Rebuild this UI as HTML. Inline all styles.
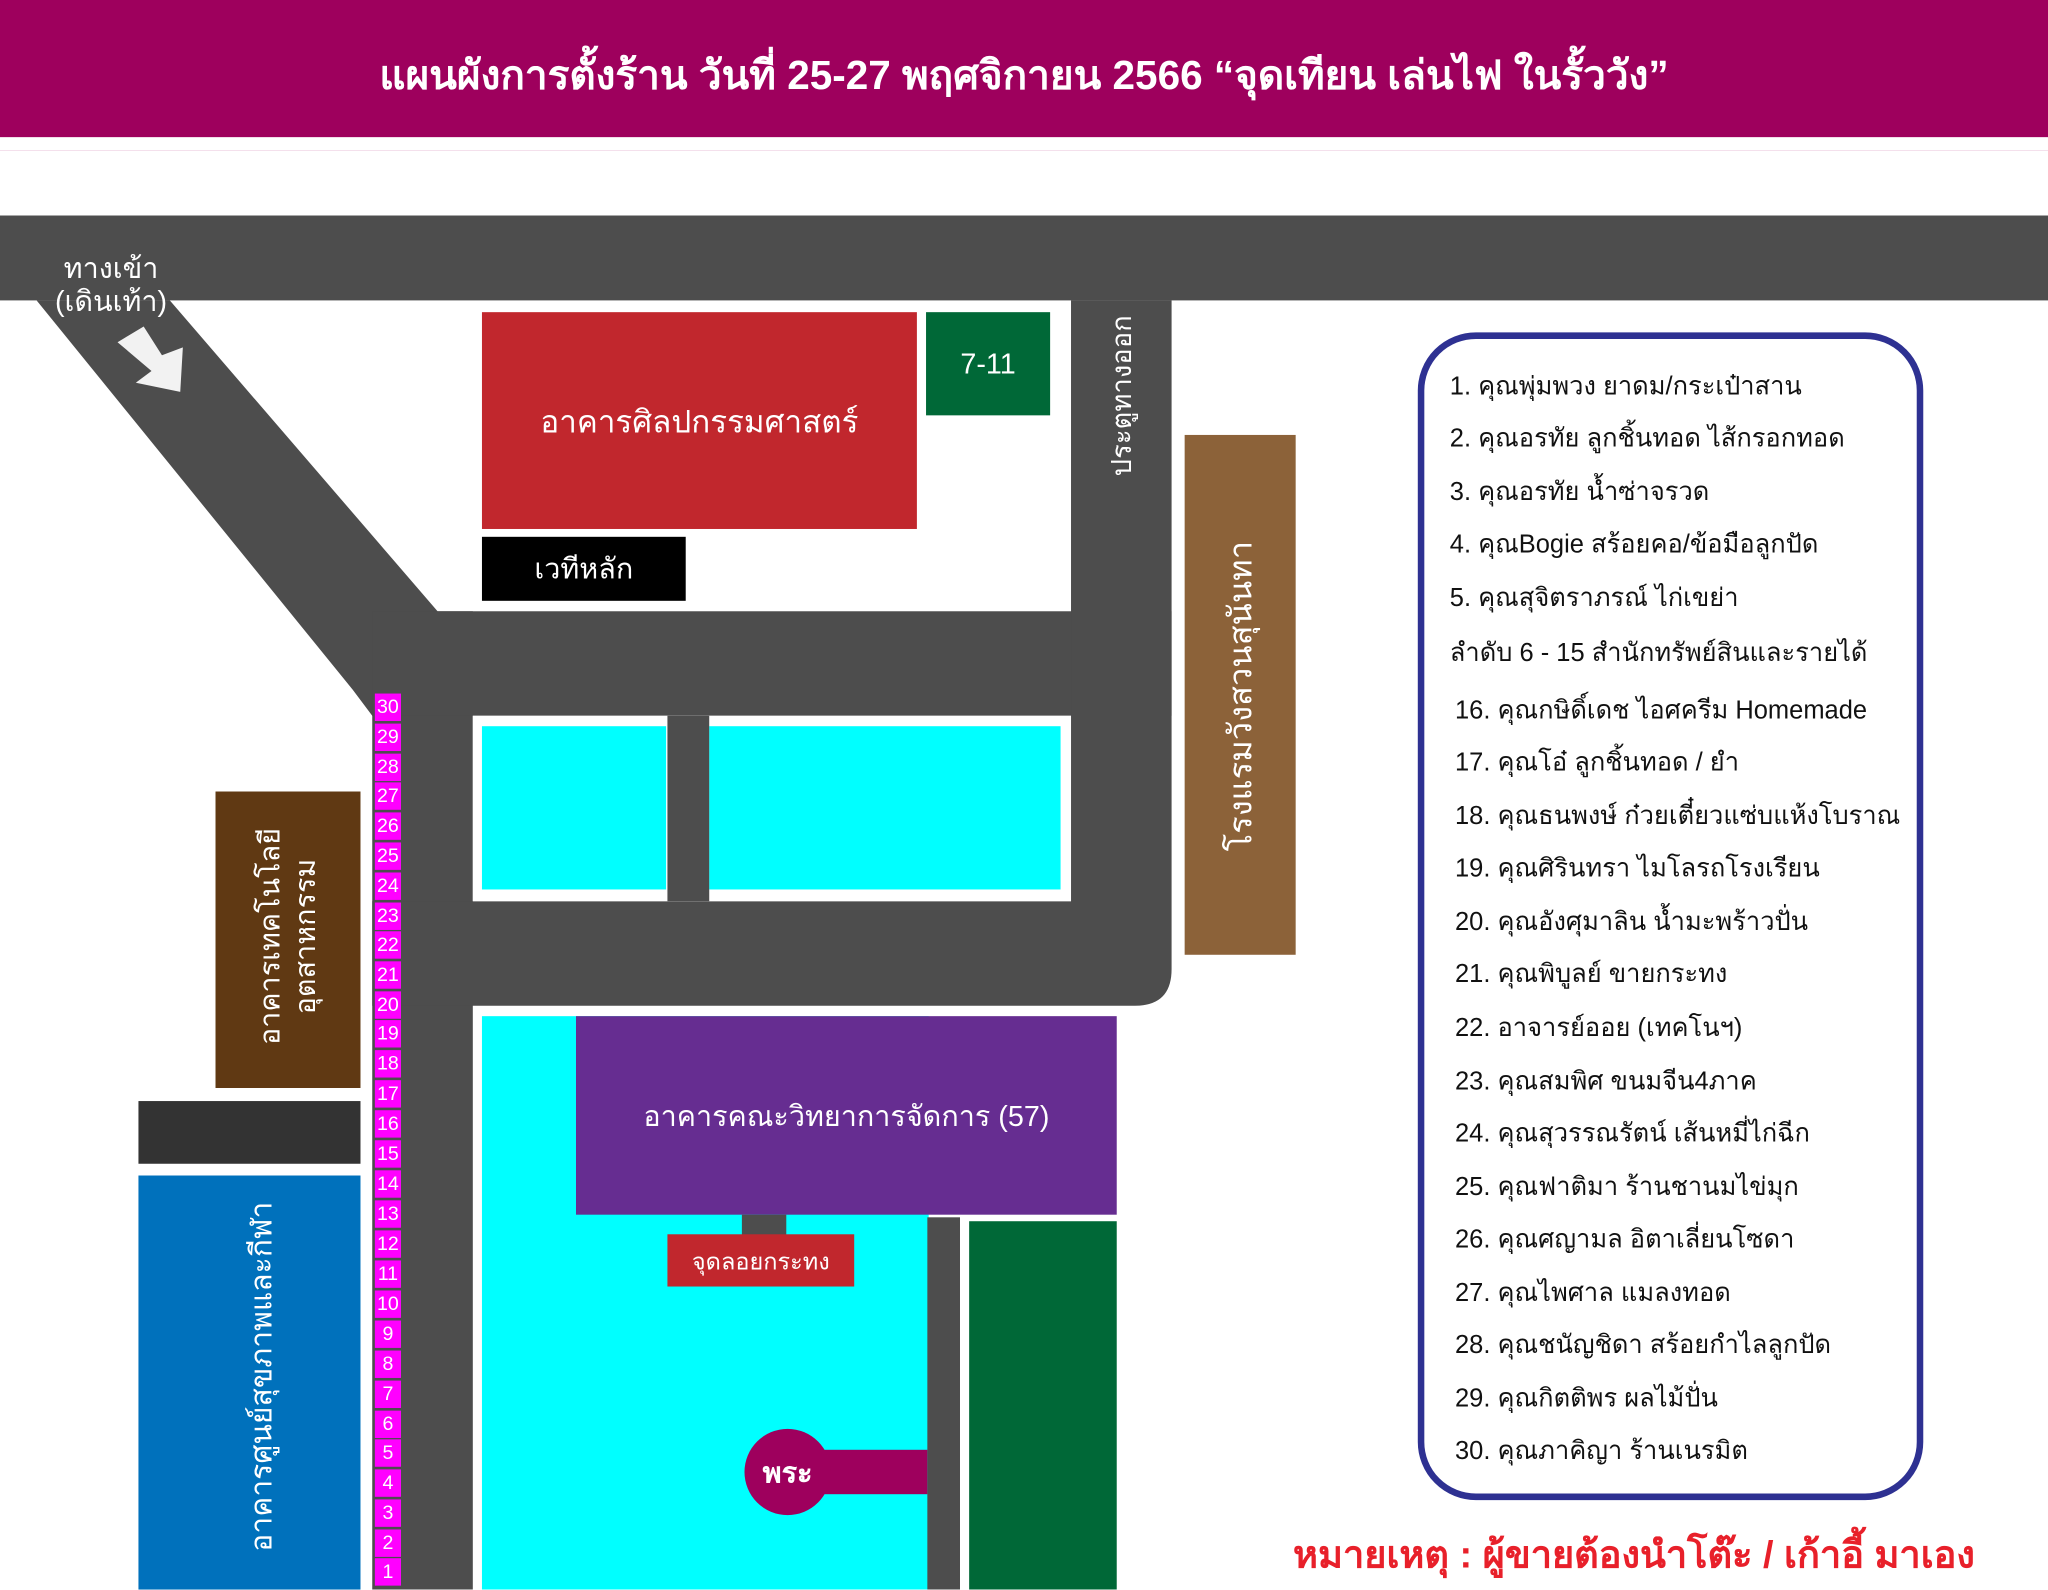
<!DOCTYPE html>
<html><head><meta charset="utf-8"><style>
html,body{margin:0;padding:0;background:#fff;width:2048px;height:1589px;overflow:hidden}
#w{position:absolute;left:0;top:0;width:1568px;height:1217px;transform:scale(1.30612);transform-origin:0 0;font-family:"Liberation Sans","Noto Sans CJK SC",sans-serif;}
.a{position:absolute}
.t{color:#fff;display:flex;align-items:center;justify-content:center;text-align:center}
.rot{position:absolute;transform:rotate(-90deg);white-space:nowrap;color:#fff;text-align:center}
.leg{position:absolute;left:0;font-size:19.5px;color:#111;white-space:nowrap}
.st{position:absolute;left:287px;width:20px;height:21px;background:#ff00ff;color:#fff;font-size:15px;line-height:21px;text-align:center}
</style></head><body><div id="w">
<div class="a t" style="left:0;top:0;width:1568px;height:115px;background:#9e005d;font-size:31px;font-weight:600"><span style="margin-top:-2px">แผนผังการตั้งร้าน วันที่ 25-27 พฤศจิกายน 2566 “จุดเทียน เล่นไฟ ในรั้ววัง”</span></div>
<div class="a" style="left:0;top:105px;width:1568px;height:10px;background:#fff"></div>
<svg class="a" style="left:0;top:0" width="1568" height="1217">
<rect x="0" y="165" width="1568" height="65" fill="#4d4d4d"/>
<polygon points="28,230 130,230 335,468 335,548 285,548 270,528" fill="#4d4d4d"/>
<rect x="285" y="468" width="77" height="749" fill="#4d4d4d"/>
<rect x="285" y="468" width="612" height="80" fill="#4d4d4d"/>
<path d="M820,230 H897 V742 Q897,770 869,770 H285 V690 H820 Z" fill="#4d4d4d"/>
<rect x="362" y="548" width="458" height="142" fill="#fff"/>
<rect x="369" y="556" width="141" height="125" fill="#00ffff"/>
<rect x="543" y="556" width="269" height="125" fill="#00ffff"/>
<rect x="511" y="548" width="32" height="142" fill="#4d4d4d"/>
<polygon points="90,262 110,250 124,272 140,266 138,300 104,293 116,284" fill="#f2f2f2"/>
<rect x="369" y="778" width="342" height="439" fill="#00ffff"/>
<rect x="441" y="778" width="414" height="152" fill="#662d91"/>
<rect x="568" y="930" width="34" height="16" fill="#4d4d4d"/>
<rect x="710" y="932" width="25" height="285" fill="#4d4d4d"/>
<rect x="742" y="935" width="113" height="282" fill="#006837"/>
<rect x="603" y="1110" width="107" height="34" fill="#9e005d"/>
<circle cx="603" cy="1127" r="33" fill="#9e005d"/>
<rect x="1088" y="257" width="382" height="889" rx="42" fill="#fff" stroke="#2e3192" stroke-width="5"/>
</svg>
<div class="a t" style="left:35px;top:193px;width:100px;font-size:22px;line-height:25px">ทางเข้า<br>(เดินเท้า)</div>
<div class="a t" style="left:369px;top:239px;width:333px;height:166px;background:#c1272d;font-size:24px">อาคารศิลปกรรมศาสตร์</div>
<div class="a t" style="left:709px;top:239px;width:95px;height:79px;background:#006837;font-size:22px">7-11</div>
<div class="a t" style="left:369px;top:411px;width:156px;height:49px;background:#000;font-size:22px">เวทีหลัก</div>
<div class="rot" style="left:795px;top:290px;width:130px;font-size:21px;line-height:26px">ประตูทางออก</div>
<div class="a" style="left:907px;top:333px;width:85px;height:398px;background:#8c6239"></div>
<div class="rot" style="left:800px;top:518px;width:300px;font-size:25px;line-height:30px">โรงแรมวังสวนสุนันทา</div>
<div class="a" style="left:165px;top:606px;width:111px;height:227px;background:#603913"></div>
<div class="rot" style="left:110px;top:690px;width:220px;font-size:22px;line-height:27px">อาคารเทคโนโลยี<br>อุตสาหกรรม</div>
<div class="a" style="left:106px;top:843px;width:170px;height:48px;background:#333"></div>
<div class="a" style="left:106px;top:900px;width:170px;height:317px;background:#0071bc"></div>
<div class="rot" style="left:50px;top:1040px;width:300px;font-size:23px;line-height:28px">อาคารศูนย์สุขภาพและกีฬา</div>
<div class="a t" style="left:441px;top:778px;width:414px;height:152px;font-size:22px">อาคารคณะวิทยาการจัดการ (57)</div>
<div class="a t" style="left:511px;top:945px;width:143px;height:40px;background:#c1272d;font-size:18px">จุดลอยกระทง</div>
<div class="a t" style="left:570px;top:1107px;width:66px;height:40px;font-size:22px;font-weight:bold">พระ</div>
<div class="st" style="top:531px">30</div><div class="st" style="top:554px">29</div><div class="st" style="top:577px">28</div><div class="st" style="top:599px">27</div><div class="st" style="top:622px">26</div><div class="st" style="top:645px">25</div><div class="st" style="top:668px">24</div><div class="st" style="top:691px">23</div><div class="st" style="top:713px">22</div><div class="st" style="top:736px">21</div><div class="st" style="top:759px">20</div><div class="st" style="top:781px">19</div><div class="st" style="top:804px">18</div><div class="st" style="top:827px">17</div><div class="st" style="top:850px">16</div><div class="st" style="top:873px">15</div><div class="st" style="top:896px">14</div><div class="st" style="top:919px">13</div><div class="st" style="top:942px">12</div><div class="st" style="top:965px">11</div><div class="st" style="top:988px">10</div><div class="st" style="top:1011px">9</div><div class="st" style="top:1034px">8</div><div class="st" style="top:1057px">7</div><div class="st" style="top:1080px">6</div><div class="st" style="top:1102px">5</div><div class="st" style="top:1125px">4</div><div class="st" style="top:1148px">3</div><div class="st" style="top:1171px">2</div><div class="st" style="top:1193px">1</div>
<div class="a" style="left:1110px;top:280px;width:360px;height:860px">
<div class="leg" style="top:0">1. คุณพุ่มพวง ยาดม/กระเป๋าสาน</div>
<div class="leg" style="top:40px">2. คุณอรทัย ลูกชิ้นทอด ไส้กรอกทอด</div>
<div class="leg" style="top:81px">3. คุณอรทัย น้ำซ่าจรวด</div>
<div class="leg" style="top:121px">4. คุณBogie สร้อยคอ/ข้อมือลูกปัด</div>
<div class="leg" style="top:162px">5. คุณสุจิตราภรณ์ ไก่เขย่า</div>
<div class="leg" style="top:204px">ลำดับ 6 - 15 สำนักทรัพย์สินและรายได้</div>
<div class="leg" style="top:248px;left:4px">16. คุณกษิดิ์เดช ไอศครีม Homemade</div>
<div class="leg" style="top:288px;left:4px">17. คุณโอ๋ ลูกชิ้นทอด / ยำ</div>
<div class="leg" style="top:329px;left:4px">18. คุณธนพงษ์ ก๋วยเตี๋ยวแซ่บแห้งโบราณ</div>
<div class="leg" style="top:369px;left:4px">19. คุณศิรินทรา ไมโลรถโรงเรียน</div>
<div class="leg" style="top:410px;left:4px">20. คุณอังศุมาลิน น้ำมะพร้าวปั่น</div>
<div class="leg" style="top:450px;left:4px">21. คุณพิบูลย์ ขายกระทง</div>
<div class="leg" style="top:491px;left:4px">22. อาจารย์ออย (เทคโนฯ)</div>
<div class="leg" style="top:532px;left:4px">23. คุณสมพิศ ขนมจีน4ภาค</div>
<div class="leg" style="top:572px;left:4px">24. คุณสุวรรณรัตน์ เส้นหมี่ไก่ฉีก</div>
<div class="leg" style="top:613px;left:4px">25. คุณฟาติมา ร้านชานมไข่มุก</div>
<div class="leg" style="top:653px;left:4px">26. คุณศญามล อิตาเลี่ยนโซดา</div>
<div class="leg" style="top:694px;left:4px">27. คุณไพศาล แมลงทอด</div>
<div class="leg" style="top:734px;left:4px">28. คุณชนัญชิดา สร้อยกำไลลูกปัด</div>
<div class="leg" style="top:775px;left:4px">29. คุณกิตติพร ผลไม้ปั่น</div>
<div class="leg" style="top:815px;left:4px">30. คุณภาคิญา ร้านเนรมิต</div>
</div>
<div class="a" style="left:990px;top:1167px;width:530px;font-size:29px;font-weight:bold;color:#e8202a;white-space:nowrap">หมายเหตุ : ผู้ขายต้องนำโต๊ะ / เก้าอี้ มาเอง</div>
</div></body></html>
